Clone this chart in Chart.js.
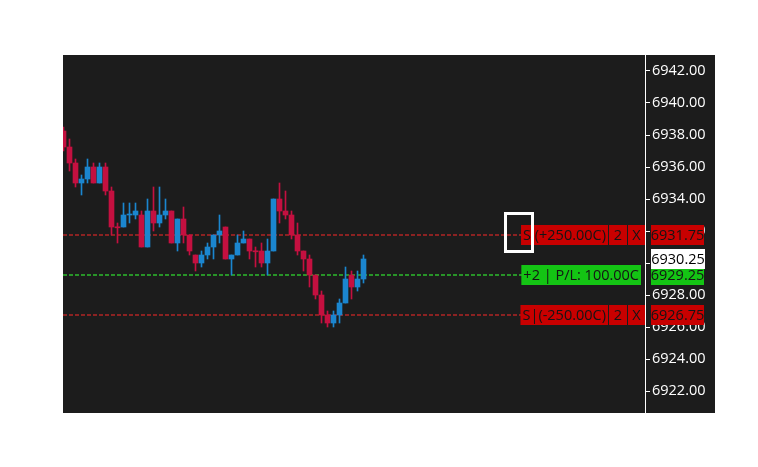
<!DOCTYPE html>
<html>
<head>
<meta charset="utf-8">
<script src="https://cdn.jsdelivr.net/npm/chart.js@4.4.1/dist/chart.umd.min.js"></script>
<style>
  html, body { margin: 0; padding: 0; background: #ffffff; }
  #wrap { width: 758px; height: 467px; }
</style>
</head>
<body>
<div id="wrap"><canvas id="chart" width="758" height="467"></canvas></div>
<script>
// candle data (oldest -> newest)
const opens = [6938.25, 6937.25, 6936.25, 6935.00, 6935.25, 6936.00, 6935.00, 6936.00, 6934.50, 6932.25,
  6932.25, 6933.00, 6933.00, 6933.00, 6931.00, 6933.25, 6932.50, 6933.00, 6933.25, 6931.25,
  6932.75, 6931.75, 6930.50, 6930.00, 6930.50, 6931.00, 6931.75, 6932.25, 6930.25, 6930.50,
  6931.25, 6931.50, 6930.75, 6930.75, 6930.00, 6930.75, 6934.00, 6933.25, 6933.00, 6931.75,
  6930.75, 6930.25, 6929.25, 6928.00, 6926.75, 6926.25, 6926.75, 6927.50, 6929.25, 6928.50,
  6929.00];
const highs = [6938.50, 6937.75, 6936.50, 6935.50, 6936.50, 6936.25, 6936.25, 6936.25, 6934.75, 6932.50,
  6933.75, 6933.75, 6933.75, 6933.25, 6934.00, 6934.75, 6934.75, 6934.00, 6933.25, 6932.75,
  6933.50, 6931.75, 6930.50, 6930.75, 6931.25, 6931.75, 6933.00, 6932.25, 6930.50, 6931.75,
  6932.00, 6931.50, 6931.00, 6931.25, 6931.50, 6934.00, 6935.00, 6934.50, 6933.25, 6932.50,
  6930.75, 6930.50, 6929.25, 6928.25, 6927.00, 6927.00, 6927.75, 6929.75, 6929.50, 6929.50,
  6930.50];
const lows = [6937.00, 6935.75, 6934.75, 6934.25, 6935.00, 6935.00, 6935.00, 6934.25, 6931.75, 6931.25,
  6932.25, 6932.50, 6932.75, 6931.00, 6931.00, 6932.00, 6932.25, 6932.75, 6931.25, 6930.75,
  6931.25, 6930.50, 6929.50, 6929.75, 6930.25, 6930.25, 6931.25, 6930.25, 6929.25, 6930.50,
  6931.25, 6930.25, 6929.75, 6929.75, 6929.25, 6930.75, 6932.50, 6932.75, 6931.50, 6930.50,
  6929.50, 6928.50, 6927.75, 6926.25, 6926.00, 6926.00, 6926.25, 6927.50, 6927.75, 6928.25,
  6928.75];
const closes = [6937.25, 6936.25, 6935.00, 6935.25, 6936.00, 6935.00, 6936.00, 6934.50, 6932.25, 6932.20,
  6933.00, 6933.00, 6933.25, 6931.00, 6933.25, 6932.50, 6933.00, 6933.25, 6931.25, 6932.75,
  6931.75, 6930.75, 6930.00, 6930.50, 6931.00, 6931.75, 6932.00, 6930.25, 6930.50, 6931.25,
  6931.50, 6930.75, 6930.70, 6930.00, 6930.75, 6934.00, 6933.25, 6933.00, 6931.75, 6930.75,
  6930.25, 6929.25, 6928.00, 6926.75, 6926.25, 6926.75, 6927.50, 6929.00, 6928.50, 6929.00,
  6930.25];

// price axis
const yTicks = [6922, 6924, 6926, 6928, 6930, 6932, 6934, 6936, 6938, 6940, 6942];
const yMax = 6943.0;
const yMin = 6920.625;
const xMin = -1 / 12;
const xMax = xMin + 97;

// orders and position
const orderPrices = [6931.75, 6926.75];
const orderTexts = ['S (+250.00C)', 'S|(-250.00C)'];
const orderQty = ['2', '2'];
const orderLineEnd = [76.3, 77.1];
const posPrice = 6929.25;
const posText = '+2 | P/L: 100.00C';
const posLineEnd = 77.6;
const lastPrice = closes[closes.length - 1];

const UP = '#1b86cf';
const DOWN = '#c41040';
const BG = '#1c1c1c';
const RED_TAG = '#c80000';
const GREEN_TAG = '#14c414';
const FONT = '14.5px "Open Sans", sans-serif';

const candleColors = opens.map((o, i) => closes[i] >= o ? UP : DOWN);

function hLine(price, end, color) {
  return {
    type: 'line',
    data: [{ x: xMin, y: price }, { x: end, y: price }],
    borderColor: color,
    borderWidth: 1.6,
    borderDash: [4, 2],
    pointRadius: 0,
    fill: false,
    order: 3
  };
}

const bgPlugin = {
  id: 'bg',
  beforeDraw(chart) {
    const { ctx, chartArea } = chart;
    const y = chart.scales.y;
    ctx.save();
    ctx.fillStyle = '#ffffff';
    ctx.fillRect(0, 0, chart.width, chart.height);
    ctx.fillStyle = BG;
    ctx.fillRect(chartArea.left, chartArea.top, y.right - chartArea.left, chartArea.bottom - chartArea.top);
    ctx.restore();
  }
};

function tag(ctx, x1, x2, yc, h, fill, text, color) {
  ctx.fillStyle = fill;
  ctx.fillRect(x1, Math.round(yc - h / 2), x2 - x1, h);
  ctx.fillStyle = color;
  ctx.textAlign = 'center';
  ctx.textBaseline = 'middle';
  ctx.fillText(text, (x1 + x2) / 2, yc + 0.5);
}

const tagsPlugin = {
  id: 'tags',
  afterDraw(chart) {
    const { ctx } = chart;
    const y = chart.scales.y;
    ctx.save();
    ctx.font = FONT;

    // order labels
    orderPrices.forEach((p, i) => {
      const yc = y.getPixelForValue(p);
      const w = ctx.measureText(orderTexts[i]).width + 4;
      tag(ctx, 608 - w, 608, yc, 20, RED_TAG, orderTexts[i], '#141414');
      tag(ctx, 609, 627, yc, 20, RED_TAG, orderQty[i], '#141414');
      tag(ctx, 628, 645, yc, 20, RED_TAG, 'X', '#141414');
      tag(ctx, 651, 704, yc, 20, RED_TAG, p.toFixed(2), '#141414');
    });

    // position label
    const yp = y.getPixelForValue(posPrice);
    const wp = ctx.measureText(posText).width + 4;
    tag(ctx, 641 - wp, 641, yp, 20, GREEN_TAG, posText, '#141414');
    tag(ctx, 651, 704, yp, 20, GREEN_TAG, posPrice.toFixed(2), '#141414');

    // last price
    const yl = y.getPixelForValue(lastPrice);
    tag(ctx, 651, 705, yl, 20, '#ffffff', lastPrice.toFixed(2), '#000000');

    // selection box around the first order's side
    const ys = y.getPixelForValue(orderPrices[0]);
    ctx.strokeStyle = '#ffffff';
    ctx.lineWidth = 3;
    ctx.strokeRect(505.5, ys - 21.5, 27, 38);
    ctx.restore();
  }
};

new Chart(document.getElementById('chart'), {
  type: 'bar',
  data: {
    datasets: [
      {
        data: opens.map((o, i) => ({ x: i, y: [o, closes[i]] })),
        backgroundColor: candleColors,
        borderWidth: 0,
        barThickness: 5,
        minBarLength: 1,
        grouped: false,
        order: 1
      },
      {
        data: lows.map((l, i) => ({ x: i, y: [l, highs[i]] })),
        backgroundColor: candleColors,
        borderWidth: 0,
        barThickness: 1,
        grouped: false,
        order: 2
      },
      hLine(orderPrices[0], orderLineEnd[0], '#b02424'),
      hLine(posPrice, posLineEnd, '#2cbc2c'),
      hLine(orderPrices[1], orderLineEnd[1], '#b02424')
    ]
  },
  options: {
    responsive: false,
    animation: false,
    events: [],
    layout: { padding: { left: 63, top: 55, bottom: 54, right: 43 } },
    plugins: { legend: { display: false }, tooltip: { enabled: false } },
    scales: {
      x: { type: 'linear', min: xMin, max: xMax, offset: false, display: false },
      y: {
        type: 'linear',
        position: 'right',
        min: yMin,
        max: yMax,
        beginAtZero: false,
        afterBuildTicks: (scale) => { scale.ticks = yTicks.map(v => ({ value: v })); },
        afterFit: (scale) => { scale.width = 70; },
        border: { display: true, color: '#ffffff', width: 1 },
        grid: { drawOnChartArea: false, drawTicks: true, tickLength: 5, color: '#ffffff' },
        ticks: {
          color: '#ffffff',
          padding: 2,
          font: { family: '"Open Sans", sans-serif', size: 14.5 },
          callback: (v) => Number(v).toFixed(2)
        }
      }
    }
  },
  plugins: [bgPlugin, tagsPlugin]
});
</script>
</body>
</html>
